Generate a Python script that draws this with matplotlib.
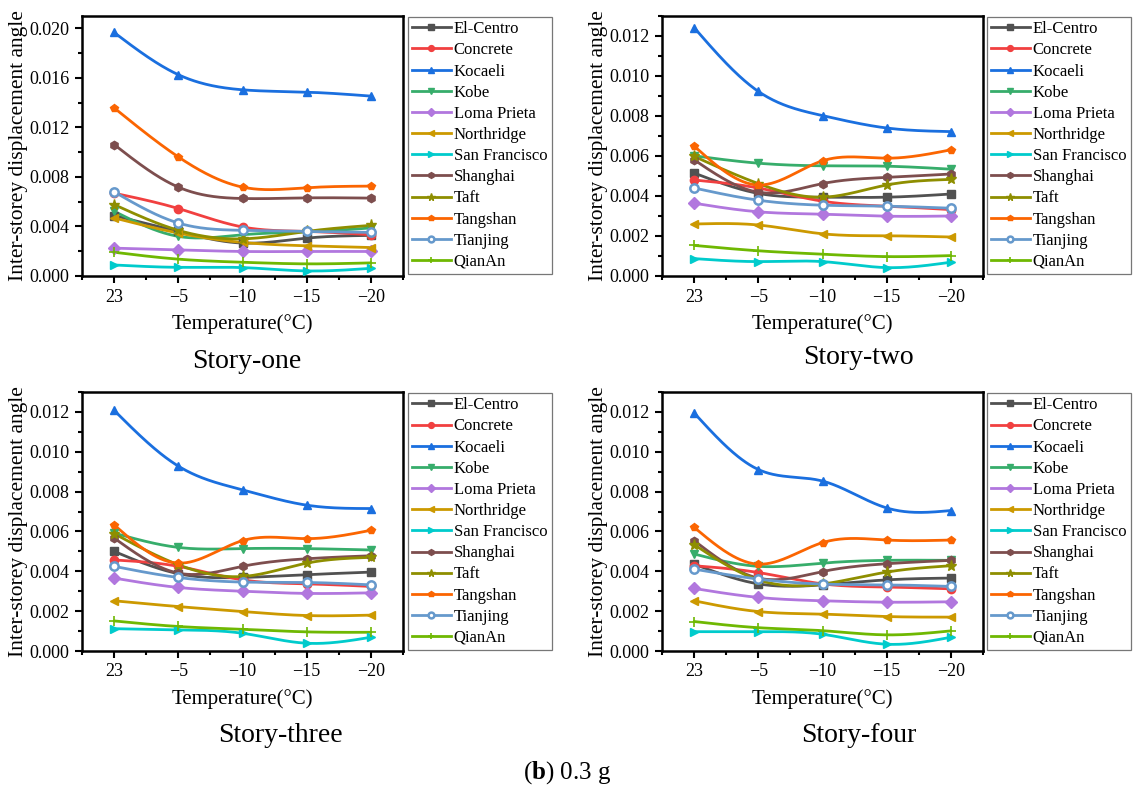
import numpy as np
import matplotlib
matplotlib.use("Agg")
import matplotlib.pyplot as plt

plt.rcParams['font.family'] = ['Liberation Serif', 'DejaVu Serif']
plt.rcParams['mathtext.fontset'] = 'custom'
plt.rcParams['mathtext.rm'] = 'Liberation Serif'
plt.rcParams['mathtext.bf'] = 'Liberation Serif:bold'

temps = ['23', '\u22125', '\u221210', '\u221215', '\u221220']
names = ['El-Centro', 'Concrete', 'Kocaeli', 'Kobe', 'Loma Prieta', 'Northridge',
         'San Francisco', 'Shanghai', 'Taft', 'Tangshan', 'Tianjing', 'QianAn']

# values in units of 1e-3
story_one = {
    'El-Centro':     [4.88, 3.60, 2.66, 3.06, 3.28],
    'Concrete':      [6.69, 5.45, 3.96, 3.60, 3.33],
    'Kocaeli':       [19.67, 16.26, 15.04, 14.85, 14.53],
    'Kobe':          [5.23, 3.20, 3.33, 3.57, 3.88],
    'Loma Prieta':   [2.25, 2.11, 1.98, 1.98, 1.98],
    'Northridge':    [4.69, 3.47, 2.71, 2.44, 2.30],
    'San Francisco': [0.89, 0.70, 0.68, 0.41, 0.62],
    'Shanghai':      [10.62, 7.18, 6.26, 6.31, 6.29],
    'Taft':          [5.77, 3.69, 3.00, 3.60, 4.09],
    'Tangshan':      [13.58, 9.62, 7.18, 7.13, 7.26],
    'Tianjing':      [6.80, 4.28, 3.69, 3.60, 3.52],
    'QianAn':        [1.92, 1.36, 1.11, 0.98, 1.06],
}
story_two = {
    'El-Centro':     [5.15, 4.13, 3.94, 3.94, 4.10],
    'Concrete':      [4.80, 4.40, 3.74, 3.49, 3.32],
    'Kocaeli':       [12.42, 9.23, 8.02, 7.40, 7.22],
    'Kobe':          [6.01, 5.64, 5.51, 5.49, 5.34],
    'Loma Prieta':   [3.64, 3.21, 3.09, 2.99, 3.00],
    'Northridge':    [2.60, 2.55, 2.11, 2.01, 1.95],
    'San Francisco': [0.87, 0.72, 0.72, 0.42, 0.69],
    'Shanghai':      [5.81, 4.19, 4.62, 4.93, 5.10],
    'Taft':          [5.98, 4.62, 3.94, 4.55, 4.83],
    'Tangshan':      [6.50, 4.55, 5.76, 5.89, 6.31],
    'Tianjing':      [4.40, 3.79, 3.54, 3.49, 3.39],
    'QianAn':        [1.53, 1.26, 1.09, 0.97, 1.02],
}
story_three = {
    'El-Centro':     [5.00, 3.88, 3.69, 3.83, 3.96],
    'Concrete':      [4.57, 4.25, 3.57, 3.37, 3.24],
    'Kocaeli':       [12.08, 9.28, 8.09, 7.32, 7.15],
    'Kobe':          [5.92, 5.20, 5.14, 5.14, 5.07],
    'Loma Prieta':   [3.66, 3.19, 3.00, 2.89, 2.92],
    'Northridge':    [2.52, 2.23, 1.98, 1.78, 1.80],
    'San Francisco': [1.12, 1.06, 0.89, 0.39, 0.69],
    'Shanghai':      [5.67, 3.91, 4.25, 4.63, 4.78],
    'Taft':          [5.89, 4.33, 3.74, 4.41, 4.70],
    'Tangshan':      [6.33, 4.41, 5.54, 5.64, 6.06],
    'Tianjing':      [4.25, 3.69, 3.46, 3.44, 3.32],
    'QianAn':        [1.51, 1.23, 1.09, 0.96, 0.94],
}
story_four = {
    'El-Centro':     [4.36, 3.37, 3.32, 3.57, 3.66],
    'Concrete':      [4.28, 3.94, 3.37, 3.21, 3.12],
    'Kocaeli':       [11.95, 9.11, 8.53, 7.18, 7.05],
    'Kobe':          [4.87, 4.25, 4.41, 4.55, 4.55],
    'Loma Prieta':   [3.14, 2.69, 2.52, 2.45, 2.47],
    'Northridge':    [2.52, 1.98, 1.85, 1.73, 1.70],
    'San Francisco': [0.97, 0.97, 0.84, 0.34, 0.69],
    'Shanghai':      [5.54, 3.66, 3.99, 4.38, 4.55],
    'Taft':          [5.34, 3.57, 3.36, 3.96, 4.28],
    'Tangshan':      [6.21, 4.36, 5.44, 5.57, 5.57],
    'Tianjing':      [4.11, 3.61, 3.36, 3.32, 3.24],
    'QianAn':        [1.48, 1.17, 1.02, 0.81, 1.01],
}

colors = {
    'El-Centro': '#515151', 'Concrete': '#F14040', 'Kocaeli': '#1A6FDF',
    'Kobe': '#37AD6B', 'Loma Prieta': '#B177DE', 'Northridge': '#CC9900',
    'San Francisco': '#00CBCC', 'Shanghai': '#7D4E4E', 'Taft': '#8E8E00',
    'Tangshan': '#FB6501', 'Tianjing': '#6699CC', 'QianAn': '#6FB802',
}
markers = {
    'El-Centro': 's', 'Concrete': 'o', 'Kocaeli': '^', 'Kobe': 'v',
    'Loma Prieta': 'D', 'Northridge': '<', 'San Francisco': '>', 'Shanghai': 'h',
    'Taft': '*', 'Tangshan': 'p', 'Tianjing': 'o', 'QianAn': '+',
}


def natural_spline(x, y, n=200):
    x = np.asarray(x, float)
    y = np.asarray(y, float)
    k = len(x)
    h = np.diff(x)
    A = np.zeros((k, k))
    b = np.zeros(k)
    A[0, 0] = 1
    A[-1, -1] = 1
    for i in range(1, k - 1):
        A[i, i - 1] = h[i - 1]
        A[i, i] = 2 * (h[i - 1] + h[i])
        A[i, i + 1] = h[i]
        b[i] = 6 * ((y[i + 1] - y[i]) / h[i] - (y[i] - y[i - 1]) / h[i - 1])
    M = np.linalg.solve(A, b)
    xs = np.linspace(x[0], x[-1], n)
    idx = np.clip(np.searchsorted(x, xs) - 1, 0, k - 2)
    x0, x1 = x[idx], x[idx + 1]
    hh = x1 - x0
    t0 = x1 - xs
    t1 = xs - x0
    ys = (M[idx] * t0 ** 3 / (6 * hh) + M[idx + 1] * t1 ** 3 / (6 * hh)
          + (y[idx] / hh - M[idx] * hh / 6) * t0
          + (y[idx + 1] / hh - M[idx + 1] * hh / 6) * t1)
    return xs, ys


W, H = 1134, 791
fig = plt.figure(figsize=(W / 100, H / 100), dpi=100)

panels = [
    (story_one, (82, 16, 403, 276), 0.021, 0.004, 0.002, (408, 17), 'Story-one', (247, 362)),
    (story_two, (662, 16, 983, 276), 0.013, 0.002, 0.001, (987, 17), 'Story-two', (858, 357)),
    (story_three, (82, 392, 403, 651), 0.013, 0.002, 0.001, (408, 393), 'Story-three', (280, 735)),
    (story_four, (662, 392, 983, 651), 0.013, 0.002, 0.001, (987, 393), 'Story-four', (859, 735)),
]

xpos = np.arange(len(temps))
for data, (l, t, r, bt), ymax, major, minor, (lx, ly), title, (tx, ty) in panels:
    ax = fig.add_axes([l / W, 1 - bt / H, (r - l) / W, (bt - t) / H])
    handles = []
    for nm in names:
        vals = np.array(data[nm]) * 1e-3
        c = colors[nm]
        xs, ys = natural_spline(xpos, vals)
        ax.plot(xs, ys, color=c, lw=2.0, solid_capstyle='round', zorder=2)
        if nm == 'Tianjing':
            mk = dict(marker='o', ms=6, mfc='white', mec=c, mew=1.8)
        elif nm == 'QianAn':
            mk = dict(marker='+', ms=7, mec=c, mew=1.2)
        elif nm == 'Taft':
            mk = dict(marker='*', ms=8, mfc=c, mec=c)
        else:
            mk = dict(marker=markers[nm], ms=6, mfc=c, mec=c)
        ax.plot(xpos, vals, ls='none', zorder=3, **mk)
        h, = ax.plot([], [], color=c, lw=2.0, **{k: (v * 0.7 if k == 'ms' else v) for k, v in mk.items()})
        handles.append(h)
    ax.set_xlim(-0.5, 4.5)
    ax.set_ylim(0, ymax)
    ax.set_xticks(xpos)
    ax.set_xticklabels(temps)
    ax.set_xticks(np.arange(-0.5, 4.6, 1.0), minor=True)
    ax.set_yticks(np.arange(0, ymax + 1e-9, major))
    ax.set_yticks(np.arange(0, ymax + 1e-9, minor), minor=True)
    ax.yaxis.set_major_formatter(matplotlib.ticker.FormatStrFormatter('%.3f'))
    for s in ax.spines.values():
        s.set_linewidth(1.8)
    ax.tick_params(which='both', direction='out', top=False, right=False, width=1.5, labelsize=13)
    ax.tick_params(which='major', length=5, pad=4)
    ax.tick_params(which='minor', length=3)
    ax.set_xlabel('Temperature(\u00b0C)', fontsize=15, labelpad=6)
    ax.set_ylabel('Inter-storey displacement angle', fontsize=15.5, labelpad=1)
    leg = ax.legend(handles, names, loc='upper left', bbox_to_anchor=(lx / W, 1 - ly / H),
                    bbox_transform=fig.transFigure, prop={'size': 12}, frameon=True, fancybox=False,
                    borderaxespad=0, borderpad=0.25, labelspacing=0.31, handlelength=2.3,
                    handletextpad=0.2, edgecolor='#555555')
    leg.get_frame().set_linewidth(0.9)
    fig.text(tx / W, 1 - ty / H, title, fontsize=20, ha='center', va='center')

fig.text(567 / W, 1 - 773 / H, r'($\mathbf{b}$) 0.3 g', fontsize=18, ha='center', va='center')

fig.savefig('out.png', dpi=100)
